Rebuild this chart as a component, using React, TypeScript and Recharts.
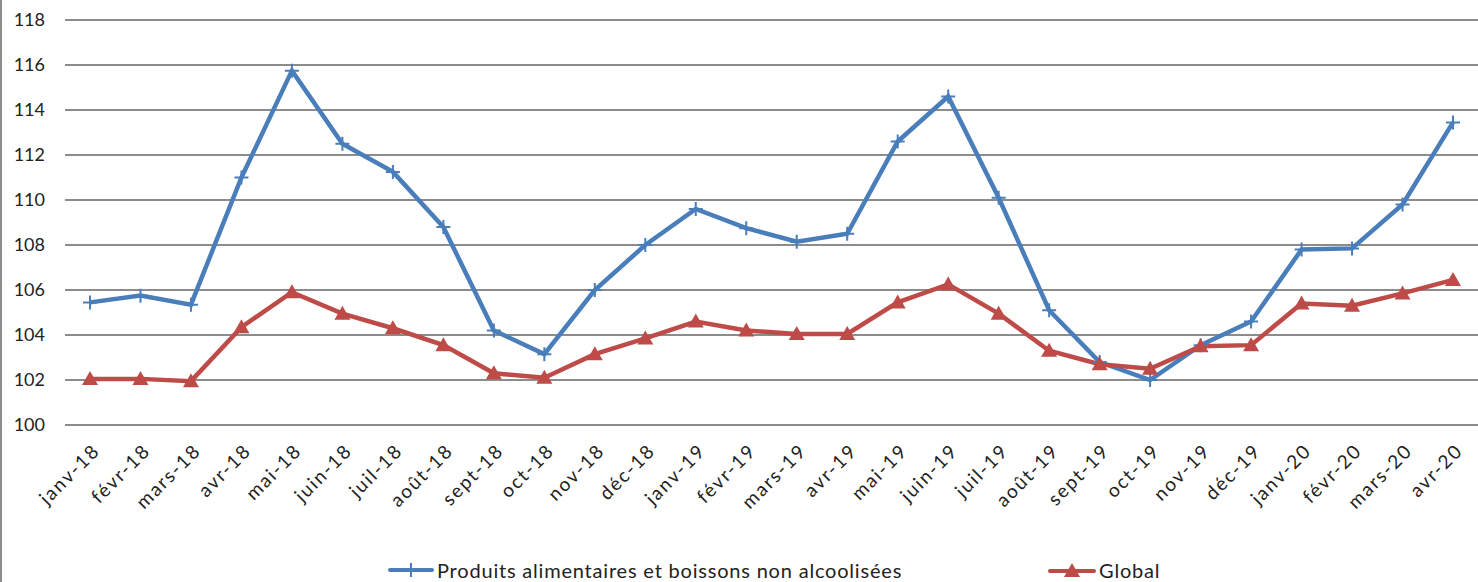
import React from 'react';
import { LineChart, Line, XAxis, YAxis, CartesianGrid, Legend } from 'recharts';

const months = [
  'janv-18', 'févr-18', 'mars-18', 'avr-18', 'mai-18', 'juin-18', 'juil-18', 'août-18', 'sept-18', 'oct-18', 'nov-18', 'déc-18',
  'janv-19', 'févr-19', 'mars-19', 'avr-19', 'mai-19', 'juin-19', 'juil-19', 'août-19', 'sept-19', 'oct-19', 'nov-19', 'déc-19',
  'janv-20', 'févr-20', 'mars-20', 'avr-20',
];

const alimentaires = [
  105.45, 105.75, 105.35, 111.0, 115.75, 112.5, 111.25, 108.8, 104.2, 103.15, 106.0, 108.0,
  109.6, 108.75, 108.15, 108.5, 112.6, 114.6, 110.1, 105.1, 102.8, 102.0, 103.55, 104.6,
  107.8, 107.85, 109.8, 113.45,
];

const global = [
  102.05, 102.05, 101.95, 104.35, 105.9, 104.95, 104.3, 103.55, 102.3, 102.1, 103.15, 103.85,
  104.6, 104.2, 104.05, 104.05, 105.45, 106.25, 104.95, 103.3, 102.7, 102.5, 103.5, 103.55,
  105.4, 105.3, 105.85, 106.45,
];

const yTicks = [100, 102, 104, 106, 108, 110, 112, 114, 116, 118];

const BLUE = '#4a7ebb';
const RED = '#be4b48';
const FONT = 'Lato, "Open Sans", sans-serif';

const data = months.map((m, i) => ({ month: m, alim: alimentaires[i], global: global[i] }));

const PlusDot = (props: any) => {
  const { cx, cy } = props;
  if (cx == null || cy == null) return null;
  return (
    <path d={`M${cx - 7},${cy}H${cx + 7}M${cx},${cy - 7}V${cy + 7}`} stroke={BLUE} strokeWidth={2} fill="none" />
  );
};

const TriangleDot = (props: any) => {
  const { cx, cy } = props;
  if (cx == null || cy == null) return null;
  return <path d={`M${cx},${cy - 8}L${cx + 8},${cy + 6}L${cx - 8},${cy + 6}Z`} fill={RED} />;
};

const MonthTick = (props: any) => {
  const { x, y, payload } = props;
  const ax = x + 11;
  const ay = y + 19;
  return (
    <text
      x={ax}
      y={ay}
      transform={`rotate(-45, ${ax}, ${ay})`}
      textAnchor="end"
      fill="#222"
      fontSize={19}
      letterSpacing={1.8}
      fontFamily={FONT}
    >
      {payload.value}
    </text>
  );
};

const LegendBox = () => (
  <div
    style={{
      display: 'flex',
      alignItems: 'center',
      fontFamily: FONT,
      fontSize: 20,
      letterSpacing: 0.8,
      color: '#222',
      marginLeft: 388,
      paddingTop: 6,
    }}
  >
    <svg width={46} height={16}>
      <line x1={2} y1={8} x2={44} y2={8} stroke={BLUE} strokeWidth={4} strokeLinecap="round" />
      <path d="M16,8H30M23,1V15" stroke={BLUE} strokeWidth={2} />
    </svg>
    <span style={{ marginLeft: 3 }}>Produits alimentaires et boissons non alcoolisées</span>
    <svg width={48} height={18} style={{ marginLeft: 146 }}>
      <line x1={2} y1={10} x2={46} y2={10} stroke={RED} strokeWidth={4} strokeLinecap="round" />
      <path d="M24,2L32,16L16,16Z" fill={RED} />
    </svg>
    <span style={{ marginLeft: 3 }}>Global</span>
  </div>
);

export default function App() {
  return (
    <div style={{ position: 'absolute', left: 0, top: 0, width: 1478, height: 582, background: '#fff' }}>
      <div style={{ position: 'absolute', left: 0, top: 0, width: 2, height: 582, background: '#8c8c8c' }} />
      <LineChart width={1478} height={582} data={data} margin={{ top: 20, right: 0, left: 0, bottom: 0 }}>
        <CartesianGrid vertical={false} stroke="#8c8c8c" strokeWidth={2} />
        <XAxis
          dataKey="month"
          interval={0}
          axisLine={false}
          tickLine={false}
          height={127}
          padding={{ left: 25, right: 25 }}
          tick={<MonthTick />}
        />
        <YAxis
          domain={[100, 118]}
          ticks={yTicks}
          axisLine={false}
          tickLine={false}
          width={65}
          tickMargin={14}
          tick={{ fill: '#222', fontSize: 18, fontFamily: FONT }}
        />
        <Legend verticalAlign="bottom" height={30} content={<LegendBox />} />
        <Line
          dataKey="alim"
          stroke={BLUE}
          strokeWidth={4.5}
          dot={<PlusDot />}
          activeDot={false}
          isAnimationActive={false}
        />
        <Line
          dataKey="global"
          stroke={RED}
          strokeWidth={4.5}
          dot={<TriangleDot />}
          activeDot={false}
          isAnimationActive={false}
        />
      </LineChart>
    </div>
  );
}
